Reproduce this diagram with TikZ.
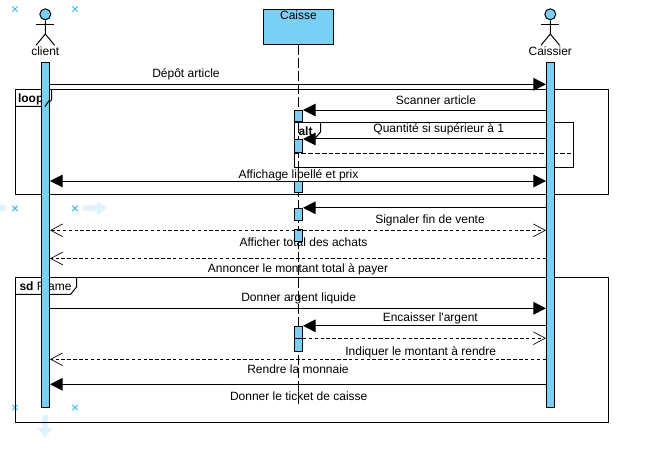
\documentclass[tikz,border=0pt]{standalone}
\usepackage{fontspec}
\setmainfont{Liberation Sans}
\usepackage{xcolor}
\usetikzlibrary{arrows.meta, shapes.misc}
\definecolor{barblue}{RGB}{122, 207, 245}
\definecolor{handleblue}{RGB}{60, 185, 245}
\definecolor{paleblue}{RGB}{222, 243, 253}

\begin{document}
\begin{tikzpicture}[
    x=0.75pt, y=-0.75pt, line width=0.75pt,
    lifeline/.style={dash pattern=on 7.5pt off 2.2pt},
    bar/.style={rectangle, draw=black, fill=barblue, minimum width=6pt, inner sep=0pt},
    objbox/.style={rectangle, draw=black, fill=barblue, minimum width=52.5pt, minimum height=26.25pt, inner sep=0pt},
    head/.style={circle, draw=black, fill=barblue, minimum size=8.2pt, inner sep=0pt},
    txt/.style={font=\fontsize{9}{10}\selectfont, inner sep=0pt, text height=6.6pt, text depth=1.9pt},
    msg/.style={-{Triangle[length=9.5pt, width=9.5pt]}},
    msgboth/.style={{Triangle[length=9.5pt, width=9.5pt]}-{Triangle[length=9.5pt, width=9.5pt]}},
    reply/.style={dashed, dash pattern=on 2.6pt off 1.8pt, -{Straight Barb[length=9pt, width=9.5pt, line width=0.5pt]}},
    replyboth/.style={dashed, dash pattern=on 2.6pt off 1.8pt, {Straight Barb[length=9pt, width=9.5pt, line width=0.5pt]}-{Straight Barb[length=9pt, width=9.5pt, line width=0.5pt]}},
    handle/.style={cross out, draw=handleblue, line width=0.75pt, minimum size=3.2pt, inner sep=0pt},
    ghost/.style={fill=paleblue, draw=none}
]
    \useasboundingbox (0, 0) rectangle (650, 452);

    % selection marks
    \fill[ghost] (83, 205.5) -- (97, 205.5) -- (97, 201) -- (107, 208.3) -- (97, 215.5) -- (97, 211) -- (83, 211) -- cycle;
    \fill[ghost] (0, 205.5) -- (6, 205.5) -- (6, 211) -- (0, 211) -- cycle;
    \fill[ghost] (42.3, 415) -- (47.8, 415) -- (47.8, 428) -- (52.7, 428) -- (45, 438) -- (37.5, 428) -- (42.3, 428) -- cycle;
    \node[handle] (hTL) at (15, 9) {};
    \node[handle] (hTR) at (75, 9) {};
    \node[handle] (hML) at (15, 208.3) {};
    \node[handle] (hMR) at (75, 208.3) {};
    \node[handle] (hBL) at (15, 407.5) {};
    \node[handle] (hBR) at (75, 407.5) {};

    % frames
    \draw (15.5, 89.5) rectangle (608.7, 195);
    \draw (51.5, 89.5) -- (51.5, 100) -- (45, 106.5) -- (15.5, 106.5);
    \draw (294.5, 122.3) rectangle (573.5, 167.3);
    \draw (320.5, 122.3) -- (320.5, 132) -- (314.5, 139);
    \draw[dash pattern=on 3.6pt off 1.5pt] (294.5, 153.5) -- (573.5, 153.5);
    \draw (15.5, 277.7) rectangle (608.7, 422);
    \draw (76.5, 277.7) -- (76.5, 287) -- (70.5, 294.5) -- (15.5, 294.5);

    % labels
    \node[txt, anchor=west] (tloop) at (17.5, 99) {\textbf{loop}};
    \node[txt, anchor=west] (talt) at (298, 132) {\textbf{alt}};
    \node[txt, anchor=west] (tsd) at (19, 287) {\textbf{sd} Frame};
    \node[txt] (tdepot) at (186, 74.5) {Dépôt article};
    \node[txt] (tscan) at (436, 101) {Scanner article};
    \node[txt] (tqte) at (438.8, 129.5) {Quantité si supérieur à 1};
    \node[txt] (taffl) at (298.5, 175) {Affichage libellé et prix};
    \node[txt] (tfin) at (430, 220.5) {Signaler fin de vente};
    \node[txt] (ttotal) at (303.5, 243.7) {Afficher total des achats};
    \node[txt] (tannonce) at (298, 269.7) {Annoncer le montant total à payer};
    \node[txt] (targent) at (298.7, 298.7) {Donner argent liquide};
    \node[txt] (tenc) at (430.3, 318.7) {Encaisser l\textquotesingle argent};
    \node[txt] (trendre) at (420.7, 352) {Indiquer le montant à rendre};
    \node[txt] (tmonn) at (298, 370.7) {Rendre la monnaie};
    \node[txt] (tticket) at (298.7, 397.7) {Donner le ticket de caisse};

    % actors
    \node[head] (clienthead) at (45.3, 14.3) {};
    \draw (clienthead.south) -- (45.3, 34) -- (36, 45.3);
    \draw (45.3, 34) -- (54.6, 45.3);
    \draw (36.3, 25) -- (54.3, 25);
    \node[txt] (tclient) at (45.3, 52.7) {client};
    \node[head] (caissierhead) at (550.3, 14.3) {};
    \draw (caissierhead.south) -- (550.3, 34) -- (541, 45.3);
    \draw (550.3, 34) -- (559.6, 45.3);
    \draw (541.3, 25) -- (559.3, 25);
    \node[txt] (tcaissier) at (550.3, 52.7) {Caissier};

    % object and lifeline
    \node[objbox] (caisse) at (298.5, 27) {};
    \node[txt] (tcaisse) at (298.5, 16.7) {Caisse};
    \coordinate (caisseend) at (298.5, 404);
    \draw[lifeline] (caisse.south) -- (caisseend);

    % bars
    \node[bar, minimum height=259.1pt] (clientbar) at (45.5, 234.75) {};
    \node[bar, minimum height=259.1pt] (caissierbar) at (550.5, 234.75) {};
    \node[bar, minimum height=8.6pt] (act1) at (298.5, 116.25) {};
    \node[bar, minimum height=9.4pt] (act2) at (298.5, 145.75) {};
    \node[bar, minimum height=8.6pt] (act3) at (298.5, 187.25) {};
    \node[bar, minimum height=9pt] (act4) at (298.5, 214.3) {};
    \node[bar, minimum height=9.5pt] (act5) at (298.5, 235.6) {};
    \node[bar, minimum height=9.3pt] (act6) at (298.5, 332.5) {};
    \node[bar, minimum height=9.6pt] (act7) at (298.5, 345.1) {};
    \draw (49.5, 100) -- (45, 106.5);

    % messages
    \draw[msg] (clientbar.east |- 0, 84.3) -- (caissierbar.west |- 0, 84.3);
    \draw[msg] (caissierbar.west |- act1.north) -- (act1.north east);
    \draw[msg] (caissierbar.west |- act2.north) -- (act2.north east);
    \draw[msgboth] (clientbar.east |- act3.north) -- (caissierbar.west |- act3.north);
    \draw[msg] (caissierbar.west |- act4.north) -- (act4.north east);
    \draw[replyboth] (clientbar.east |- 0, 230.3) -- (caissierbar.west |- 0, 230.3);
    \draw[reply] (caissierbar.west |- 0, 258.5) -- (clientbar.east |- 0, 258.5);
    \draw[msg] (clientbar.east |- 0, 308.3) -- (caissierbar.west |- 0, 308.3);
    \draw[msg] (caissierbar.west |- act6.north) -- (act6.north east);
    \draw[reply] (act7.north east) -- (caissierbar.west |- act7.north);
    \draw[reply] (caissierbar.west |- 0, 359.3) -- (clientbar.east |- 0, 359.3);
    \draw[msg] (caissierbar.west |- 0, 384.3) -- (clientbar.east |- 0, 384.3);
\end{tikzpicture}
\end{document}
